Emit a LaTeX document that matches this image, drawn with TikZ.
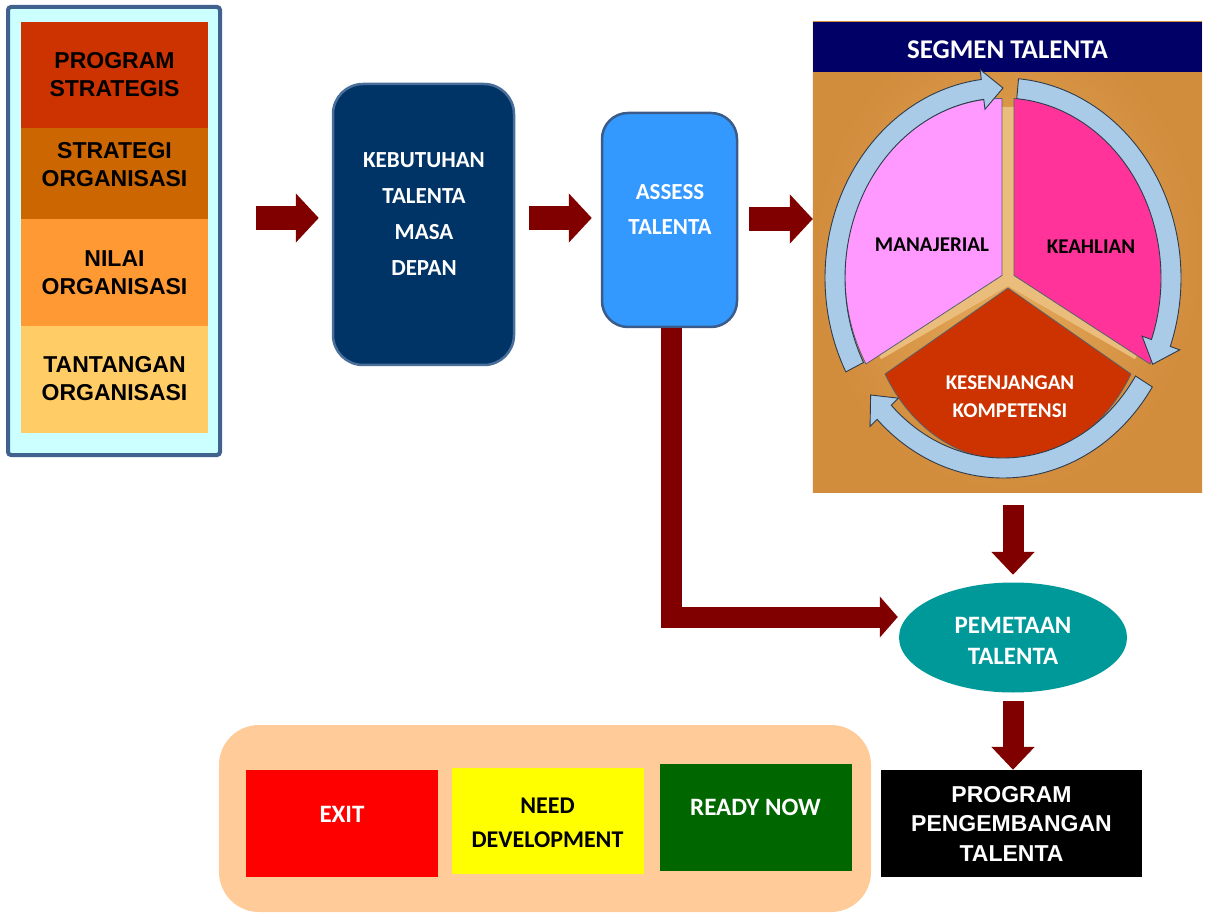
\documentclass[tikz,border=0pt]{standalone}
\usepackage{fontspec}
\setmainfont{Carlito}
\newfontfamily\arialfont{Liberation Sans}
\usetikzlibrary{calc,arrows.meta,shapes.geometric}

\definecolor{arrowred}{HTML}{800000}
\definecolor{frameblue}{HTML}{41618F}
\definecolor{paleCyan}{HTML}{CCFFFF}
\definecolor{bandA}{HTML}{CC3300}
\definecolor{bandB}{HTML}{CC6600}
\definecolor{bandC}{HTML}{FF9933}
\definecolor{bandD}{HTML}{FFCC66}
\definecolor{navybox}{HTML}{003366}
\definecolor{navyedge}{HTML}{4A6E9A}
\definecolor{skybox}{HTML}{3399FF}
\definecolor{skyedge}{HTML}{3B5B8A}
\definecolor{headnavy}{HTML}{000066}
\definecolor{segbg}{HTML}{DC9A4C}
\definecolor{segbgLight}{HTML}{E6AA5C}
\definecolor{segbgDark}{HTML}{D18C3C}
\definecolor{gapcol}{HTML}{EBBD7C}
\definecolor{pinkA}{HTML}{FF99FF}
\definecolor{pinkB}{HTML}{FF3399}
\definecolor{rustred}{HTML}{CC3300}
\definecolor{ringblue}{HTML}{A9CBE8}
\definecolor{ringedge}{HTML}{2E3B4A}
\definecolor{tealfill}{HTML}{009999}
\definecolor{legorange}{HTML}{FFCC99}
\definecolor{exitred}{HTML}{FF0000}
\definecolor{needyellow}{HTML}{FFFF00}
\definecolor{readygreen}{HTML}{006600}

% one curved segment of the ring around the pie, running clockwise
% from angle #1 to the base of its head at angle #2
\newcommand\ringseg[2]{%
  \pgfmathsetmacro\tipang{#2-7}%
  \filldraw[ringfill] ($(RC)+(#1:178 and 200)$)
    arc[start angle=#1, end angle=#2, x radius=178, y radius=200]
    -- ($(RC)+(#2:188 and 210)$) -- ($(RC)+(\tipang:168 and 190)$)
    -- ($(RC)+(#2:148 and 170)$) -- ($(RC)+(#2:158 and 180)$)
    arc[start angle=#2, end angle=#1, x radius=158, y radius=180] -- cycle;}

\begin{document}
\begin{tikzpicture}[x=1pt,y=1pt,
  band/.style={rectangle, minimum width=187pt, inner sep=0pt},
  ariallbl/.style={font={\arialfont\bfseries\fontsize{23}{28}\selectfont}, align=center, inner sep=0pt},
  calilbl/.style={font={\bfseries\fontsize{23}{36}\selectfont}, align=center, inner sep=0pt},
  hbar/.style={draw=arrowred, line width=24pt, -{Triangle[length=23pt,width=48pt]}},
  vbar/.style={draw=arrowred, line width=21pt, -{Triangle[length=23pt,width=42pt]}},
  lbar/.style={draw=arrowred, line width=21pt, -{Triangle[length=18pt,width=40pt]}},
  ringfill/.style={fill=ringblue, draw=ringedge, line width=0.9pt},
  sector/.style={draw=ringedge!80, line width=0.8pt},
  legcell/.style={rectangle, minimum width=192pt, minimum height=107pt, inner sep=0pt}]
\useasboundingbox (0,0) rectangle (1206,914);

% left column of drivers
\node[rectangle, rounded corners=3pt, draw=frameblue, line width=4pt, fill=paleCyan,
      minimum width=212pt, minimum height=448pt] (lbox) at (114,683) {};
\node[band, fill=bandA, minimum height=106pt] (b1) at (114.5,839) {};
\node[band, fill=bandB, minimum height=91pt] (b2) at (114.5,740.5) {};
\node[band, fill=bandC, minimum height=107pt] (b3) at (114.5,641.5) {};
\node[band, fill=bandD, minimum height=107pt] (b4) at (114.5,534.5) {};
\node[ariallbl] (t1) at (114.5,839) {PROGRAM\\STRATEGIS};
\node[ariallbl] (t2) at (114.5,749) {STRATEGI\\ORGANISASI};
\node[ariallbl] (t3) at (114.5,641) {NILAI\\ORGANISASI};
\node[ariallbl] (t4) at (114.5,535.5) {TANTANGAN\\ORGANISASI};

% future talent needs
\node[rectangle, rounded corners=30pt, fill=navybox, draw=navyedge, line width=2.5pt,
      minimum width=181pt, minimum height=281pt] (keb) at (423.5,689.5) {};
\node[calilbl, text=white] (kebt) at (424,700) {KEBUTUHAN\\TALENTA\\MASA\\DEPAN};

% assessment
\node[rectangle, rounded corners=26pt, fill=skybox, draw=skyedge, line width=2.5pt,
      minimum width=135pt, minimum height=214pt] (ass) at (669.5,694) {};
\node[calilbl, text=white, font={\bfseries\fontsize{23}{35}\selectfont}] (asst) at (670,704.5) {ASSESS\\TALENTA};

% talent segment panel
\node[rectangle, fill=segbg, minimum width=389pt, minimum height=470pt, inner sep=0pt] (seg) at (1007.5,657) {};
\shade[inner color=segbgLight, outer color=segbgDark] (seg.south west) rectangle (seg.north east);
\node[rectangle, fill=headnavy, minimum width=389pt, minimum height=50pt, inner sep=0pt] (segh) at (1007.5,867) {};
\node[text=white, font={\bfseries\fontsize{27}{30}\selectfont}, inner sep=0pt] (segt) at (1007.5,864) {SEGMEN TALENTA};

\coordinate (PC) at (1008,635);
\coordinate (RC) at (1003,636);
\draw[gapcol, line width=12pt] (PC) -- ++(90:172) (PC) -- ++(210:150) (PC) -- ++(330:150);
\filldraw[sector, fill=pinkA] ($(PC)+(150:7)$) -- ++(90:157 and 177)
  arc[start angle=90, end angle=210, x radius=157, y radius=177] -- cycle;
\filldraw[sector, fill=pinkB] ($(PC)+(30:7)$) -- ++(-30:157 and 177)
  arc[start angle=-30, end angle=90, x radius=157, y radius=177] -- cycle;
\filldraw[sector, fill=rustred] ($(PC)+(270:9)$) -- ++(210:142 and 172)
  arc[start angle=210, end angle=330, x radius=142, y radius=172] -- cycle;
\ringseg{208}{97}
\ringseg{85}{-20}
\ringseg{-33}{-135}
\node[font={\bfseries\fontsize{21}{28}\selectfont}, inner sep=0pt] (man) at (932,669) {MANAJERIAL};
\node[font={\bfseries\fontsize{21}{28}\selectfont}, inner sep=0pt] (kea) at (1091,667) {KEAHLIAN};
\node[font={\bfseries\fontsize{21}{28}\selectfont}, text=white, align=center, inner sep=0pt] (kes) at (1010,517) {KESENJANGAN\\KOMPETENSI};

% talent mapping and development programme
\node[ellipse, fill=tealfill, minimum width=228pt, minimum height=110pt, inner sep=0pt] (pem) at (1013,276.5) {};
\node[calilbl, text=white, font={\bfseries\fontsize{25}{31}\selectfont}] (pemt) at (1013,273.5) {PEMETAAN\\TALENTA};
\node[rectangle, fill=black, minimum width=261pt, minimum height=107pt, inner sep=0pt] (prog) at (1011.5,90.5) {};
\node[ariallbl, text=white, font={\arialfont\bfseries\fontsize{23}{29.5}\selectfont}] (progt) at (1011.5,90.5) {PROGRAM\\PENGEMBANGAN\\TALENTA};

% readiness categories
\node[rectangle, rounded corners=40pt, fill=legorange, minimum width=652pt, minimum height=187pt] (leg) at (545,95.5) {};
\node[legcell, fill=exitred] (exit) at (342,90.5) {};
\node[legcell, fill=needyellow, minimum height=106pt] (need) at (547.5,93) {};
\node[legcell, fill=readygreen] (ready) at (755.5,96.5) {};
\node[text=white, font={\bfseries\fontsize{25}{30}\selectfont}, inner sep=0pt] (exitt) at (342,100) {EXIT};
\node[align=center, font={\bfseries\fontsize{24}{34}\selectfont}, inner sep=0pt] (needt) at (547.5,91) {NEED\\DEVELOPMENT};
\node[text=white, font={\bfseries\fontsize{25}{30}\selectfont}, inner sep=0pt] (readyt) at (755.5,107) {READY NOW};

% flow connectors
\draw[hbar] ($(lbox.east)+(34,13)$) -- ($(keb.west)+(-13,6.5)$);
\draw[hbar] ($(keb.east)+(14,6.5)$) -- ($(ass.west)+(-9,2)$);
\draw[hbar] ($(ass.east)+(11,1)$) -- ($(seg.west)+(0,38)$);
\draw[vbar] ($(seg.south)+(5.5,-13)$) -- ($(pem.north)+(0,7.5)$);
\draw[vbar] ($(pem.south)+(0,-8.5)$) -- ($(prog.north)+(1.5,0)$);
\draw[lbar] ($(ass.south)+(1.5,0)$) |- ($(pem.west)+(-1,20.5)$);
\end{tikzpicture}
\end{document}
